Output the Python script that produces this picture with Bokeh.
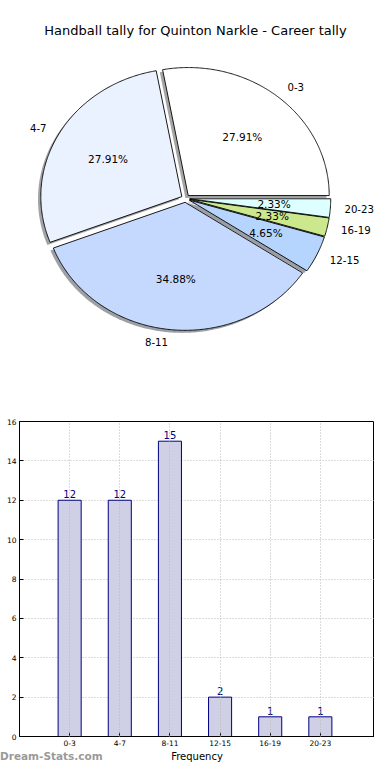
import math
from bokeh.plotting import figure
from bokeh.layouts import column
from bokeh.models import Range1d, FixedTicker, Label, ColumnDataSource, Div
from bokeh.core.properties import value
from bokeh.embed import file_html
from bokeh.resources import INLINE

# ---------------- data ----------------
title_text = "Handball tally for Quinton Narkle - Career tally"
categories = ["0-3", "4-7", "8-11", "12-15", "16-19", "20-23"]
counts = [12, 12, 15, 2, 1, 1]
pie_colors = ["#ffffff", "#eaf1ff", "#c5d9ff", "#b5d5ff", "#cce88c", "#ddffff"]
y_ticks = [0, 2, 4, 6, 8, 10, 12, 14, 16]
x_label = "Frequency"
watermark = "Dream-Stats.com"

FONT = "DejaVu Sans"
BL, BR = 19, 0          # shared left/right borders so both frames line up
W = 374

# ---------------- pie (pixel-like coordinates, y downwards) ----------------
PIE_H = 400
pie = figure(width=W, height=PIE_H, x_range=Range1d(BL, W - BR), y_range=Range1d(PIE_H, 0),
             output_backend="svg", toolbar_location=None,
             min_border_left=BL, min_border_right=BR, min_border_top=0, min_border_bottom=0,
             x_axis_location=None, y_axis_location=None)
pie.grid.visible = False
pie.outline_line_color = None

CX, CY, RX, RY = 185.0, 198.0, 141.0, 128.0
EXPLODE = 0.03
SHADOW = 0.02
total = float(sum(counts))


def hex_to_rgb(h):
    h = h.lstrip("#")
    return tuple(int(h[i:i + 2], 16) for i in (0, 2, 4))


wx, wy, sx, sy, scol = [], [], [], [], []
pct_x, pct_y, pct_t = [], [], []
start = 0.0
for cat, c, col in zip(categories, counts, pie_colors):
    span = 360.0 * c / total
    t1, t2 = start, start + span
    tm = math.radians((t1 + t2) / 2)
    ox = CX + EXPLODE * RX * math.cos(tm)
    oy = CY - EXPLODE * RY * math.sin(tm)
    n = max(8, int(span * 2))
    xs = [ox]
    ys = [oy]
    for k in range(n + 1):
        a = math.radians(t1 + span * k / n)
        xs.append(ox + RX * math.cos(a))
        ys.append(oy - RY * math.sin(a))
    wx.append(xs)
    wy.append(ys)
    sx.append([x - SHADOW * RX for x in xs])
    sy.append([y + SHADOW * RY for y in ys])
    r, g, b = hex_to_rgb(col)
    scol.append("#%02x%02x%02x" % (int(r * 0.3), int(g * 0.3), int(b * 0.3)))
    pct_x.append(ox + 0.6 * RX * math.cos(tm))
    pct_y.append(oy - 0.6 * RY * math.sin(tm))
    pct_t.append("%.2f%%" % (100.0 * c / total))
    lx = ox + 1.1 * RX * math.cos(tm)
    ly = oy - 1.1 * RY * math.sin(tm)
    pie.add_layout(Label(x=lx, y=ly, text=cat,
                         text_align="left" if math.cos(tm) > 0 else "right",
                         text_baseline="middle", text_font=FONT, text_font_size="10.2px",
                         text_color="black"))
    start = t2

pie.patches(xs=sx, ys=sy, fill_color=scol, fill_alpha=0.5, line_color=None)
pie.patches(xs=wx, ys=wy, fill_color=pie_colors, line_color="black", line_width=0.9)
pie.text(x=pct_x, y=pct_y, text=pct_t, text_align="center", text_baseline="middle",
         text_font=value(FONT), text_font_size="10.5px", text_color="black")
pie.add_layout(Label(x=195, y=30, text=title_text, text_align="center", text_baseline="middle",
                     text_font=FONT, text_font_size="13px", text_color="black"))

# ---------------- bar chart ----------------
xpos = list(range(len(categories)))
X_END = len(categories) + 0.08   # keeps the 50px category pitch on a frame reaching the edge
bar = figure(width=W, height=364, x_range=Range1d(-1, X_END), y_range=Range1d(0, 16),
             output_backend="svg", toolbar_location=None,
             min_border_left=BL, min_border_right=BR, min_border_top=21, min_border_bottom=26)
src = ColumnDataSource(dict(x=xpos, top=counts, lab=[str(c) for c in counts]))
bar.vbar(x="x", top="top", width=0.46, source=src, fill_color="#cfcfe6",
         line_color="#000080", line_width=1)
bar.text(x="x", y="top", text="lab", source=src, text_align="center", text_baseline="bottom",
         y_offset=-2, text_font=value(FONT), text_font_size="10px", text_color="#000080")

bar.xaxis.ticker = FixedTicker(ticks=xpos)
bar.xaxis.major_label_overrides = {i: c for i, c in zip(xpos, categories)}
bar.yaxis.ticker = FixedTicker(ticks=y_ticks)
bar.xgrid.ticker = FixedTicker(ticks=xpos)
bar.ygrid.ticker = FixedTicker(ticks=y_ticks)
for g in (bar.xgrid, bar.ygrid):
    g.grid_line_color = "#b8b8b8"
    g.grid_line_dash = "1 2"
    g.grid_line_width = 1
bar.xgrid.level = "overlay"

for ax in (bar.xaxis, bar.yaxis):
    ax.major_tick_in = 4
    ax.major_tick_out = 0
    ax.minor_tick_line_color = None
    ax.axis_line_color = "black"
    ax.major_tick_line_color = "black"
    ax.major_label_text_font = FONT
    ax.major_label_text_font_size = "7.5px"
    ax.major_label_text_color = "black"
    ax.major_label_standoff = 3
bar.xaxis.axis_label = x_label
bar.xaxis.axis_label_text_font = FONT
bar.xaxis.axis_label_text_font_size = "10px"
bar.xaxis.axis_label_text_font_style = "normal"
bar.xaxis.axis_label_text_color = "black"
bar.xaxis.axis_label_standoff = 2
bar.outline_line_color = "black"
bar.outline_line_alpha = 1

mark = Div(text=watermark, width=120, height=14, margin=(-15, 0, 0, 0),
           styles={"font-family": FONT, "font-size": "10.5px", "font-weight": "bold",
                   "color": "#9a9a9a", "line-height": "14px", "z-index": "5"})

layout = column(pie, bar, mark, spacing=0)
open("out.html", "w").write(file_html(layout, INLINE))
